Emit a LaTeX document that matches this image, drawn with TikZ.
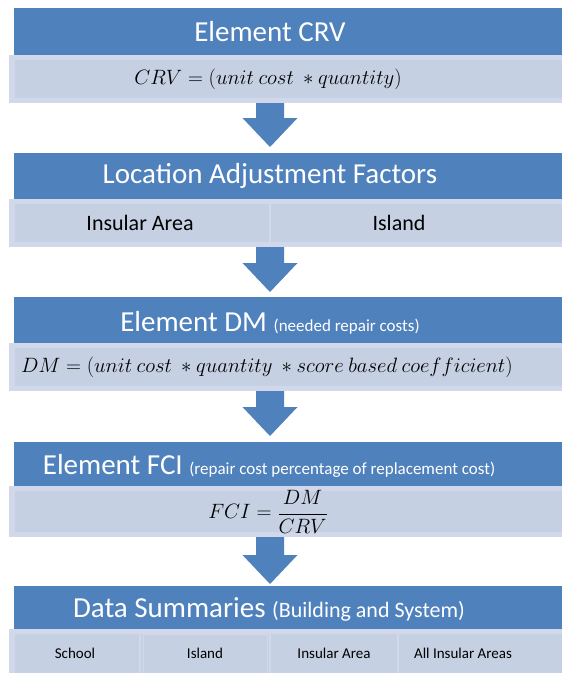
\documentclass[tikz,border=0pt]{standalone}
\usepackage{fontspec}
\setmainfont{Carlito}
\usetikzlibrary{calc}
\definecolor{hdr}{HTML}{4F81BD}
\definecolor{barin}{HTML}{C5D0E3}
\definecolor{barout}{HTML}{D0D8E9}
\newcommand{\blockarr}[2]{%
  \fill[hdr] let \p1=(#1), \p2=(#2) in
    (\x1-14pt,\y1) -- (\x1+14pt,\y1) -- (\x1+14pt,\y2+29pt) -- (\x1+27.5pt,\y2+29pt)
    -- (\x1,\y2) -- (\x1-27.5pt,\y2+29pt) -- (\x1-14pt,\y2+29pt) -- cycle;}
\newcommand{\lightbar}[2]{%
  \fill[barout] (9,#1) rectangle (562,#2);
  \fill[barin] (15,#1+5) rectangle (562,#2-5);}
\begin{document}
\begin{tikzpicture}[x=1pt,y=-1pt,
  hdrtext/.style={text=white,inner sep=0pt,anchor=center},
  bartext/.style={text=black,inner sep=0pt,anchor=center,font=\fontsize{22}{26}\selectfont},
  celltext/.style={text=black,inner sep=0pt,anchor=center,font=\fontsize{15}{18}\selectfont},
  formula/.style={text=black,inner sep=0pt,anchor=center,font=\fontsize{20}{24}\selectfont},
  big/.style={font=\fontsize{29}{34}\selectfont},
  divider/.style={draw=barout,line width=2.5pt}]
\useasboundingbox (0,0) rectangle (562,673);
\fill[white] (0,0) rectangle (562,673);

% arrow coordinates
\coordinate (a1s) at (270,100); \coordinate (a1e) at (270,147);
\coordinate (a2s) at (270,244); \coordinate (a2e) at (270,292);
\coordinate (a3s) at (270,388); \coordinate (a3e) at (270,436);
\coordinate (a4s) at (270,534); \coordinate (a4e) at (270,584);

\blockarr{a1s}{a1e}
\blockarr{a2s}{a2e}
\blockarr{a3s}{a3e}
\blockarr{a4s}{a4e}

% Block 1
\fill[hdr] (14,8) rectangle (562,55);
\lightbar{55}{103}
\node[hdrtext,big] (h1) at (270,31.5) {Element CRV};
\node[formula] (f1) at (268,79) {$CRV = (unit\ cost\ * quantity)$};

% Block 2
\fill[hdr] (14,153) rectangle (562,199);
\lightbar{199}{247}
\draw[divider] (270,199) -- (270,247);
\node[hdrtext,big] (h2) at (270,176) {Location Adjustment Factors};
\node[bartext] (c21) at (140,223) {Insular Area};
\node[bartext] (c22) at (399,223) {Island};

% Block 3
\fill[hdr] (14,297) rectangle (562,343);
\lightbar{343}{391}
\node[hdrtext,big,anchor=base] (h3) at (270,331) {Element DM \fontsize{17}{20}\selectfont(needed repair costs)};
\node[formula] (f3) at (267,367) {$DM = (unit\ cost\ * quantity\ * score\ based\ coefficient)$};

% Block 4
\fill[hdr] (14,442) rectangle (562,486);
\lightbar{486}{537}
\node[hdrtext,big,anchor=base] (h4) at (269,474) {Element FCI \fontsize{17}{20}\selectfont(repair cost percentage of replacement cost)};
\node[formula] (f4) at (268,512) {$FCI = \displaystyle\frac{DM}{CRV}$};

% Block 5
\fill[hdr] (14,586) rectangle (562,629);
\fill[barout] (9,629) rectangle (562,673);
\fill[barin] (15,634) rectangle (562,673);
\draw[divider] (140,629) -- (140,673);
\draw[divider] (270,629) -- (270,673);
\draw[divider] (398,629) -- (398,673);
\draw[barout,line width=1pt] (143.5,634) rectangle (267.5,675);
\node[hdrtext,big,anchor=base] (h5) at (269,617) {Data Summaries \fontsize{22}{26}\selectfont(Building and System)};
\node[celltext] (c51) at (75,653) {School};
\node[celltext] (c52) at (205,653) {Island};
\node[celltext] (c53) at (334,653) {Insular Area};
\node[celltext] (c54) at (463,653) {All Insular Areas};
\end{tikzpicture}
\end{document}
